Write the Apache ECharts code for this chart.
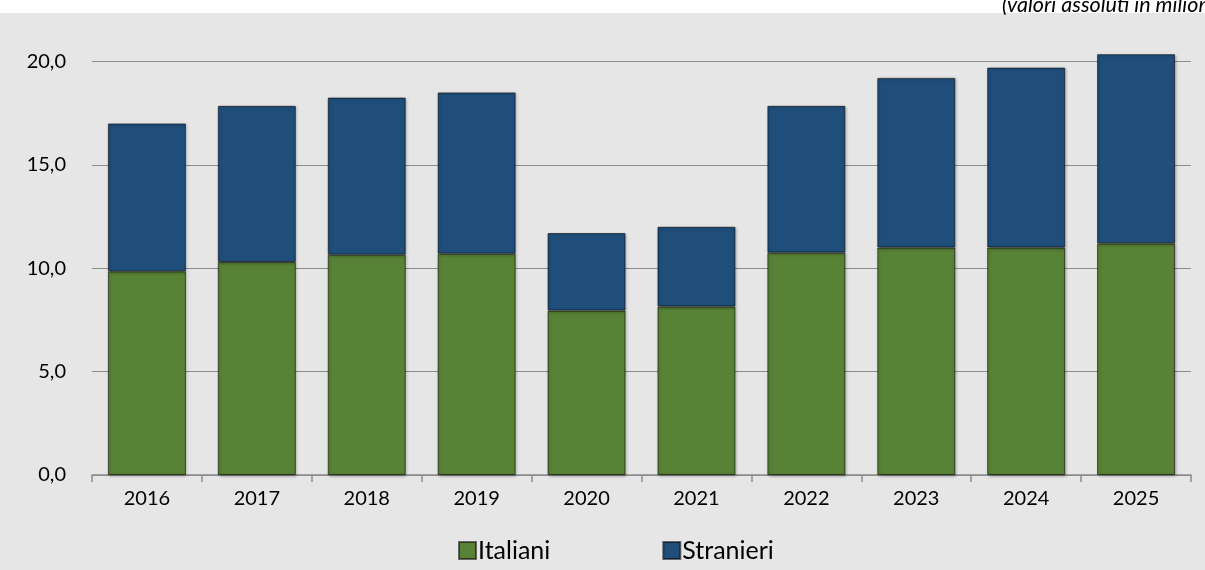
<!DOCTYPE html>
<html>
<head>
<meta charset="utf-8">
<script src="https://cdn.jsdelivr.net/npm/echarts@6/dist/echarts.min.js"></script>
<style>
html,body{margin:0;padding:0;background:#fff;}
#chart{width:1205px;height:570px;}
</style>
</head>
<body>
<div id="chart"></div>
<script>
const categories = ['2016','2017','2018','2019','2020','2021','2022','2023','2024','2025'];
const italiani  = [9.85, 10.3, 10.65, 10.7, 7.95, 8.15, 10.75, 11.0, 11.0, 11.2];
const stranieri = [7.15, 7.55, 7.6, 7.8, 3.75, 3.85, 7.1, 8.2, 8.7, 9.15];
const seriesNames = ['Italiani', 'Stranieri'];
const noteText = '(valori assoluti in milioni)';

const FONT = 'Lato, "Open Sans", sans-serif';
const chart = echarts.init(document.getElementById('chart'), null, {renderer: 'canvas'});

function barStyle(color) {
  return {
    color: color,
    borderColor: 'rgba(0,0,0,0.55)',
    borderWidth: 1,
    shadowColor: 'rgba(0,0,0,0.35)',
    shadowBlur: 3,
    shadowOffsetX: 1,
    shadowOffsetY: 1
  };
}

chart.setOption({
  animation: false,
  graphic: [
    { type: 'rect', z: -10, silent: true,
      shape: { x: 0, y: 13, width: 1205, height: 557 },
      style: { fill: '#e6e6e6' } },
    { type: 'text', z: -5, silent: true, left: 1002, top: -6,
      style: { text: noteText, font: 'italic 21.5px ' + FONT, fill: '#000' } }
  ],
  grid: { left: 92, right: 14, top: 20, bottom: 95, containLabel: false },
  legend: {
    data: seriesNames,
    left: 458, top: 538, padding: 0,
    itemWidth: 17, itemHeight: 17, itemGap: 112,
    textStyle: { fontFamily: FONT, fontSize: 25, color: '#000', padding: [0,0,0,-3] },
    icon: 'rect'
  },
  xAxis: {
    type: 'category',
    data: categories,
    axisLine: { show: true, lineStyle: { color: '#8c8c8c', width: 1.5 } },
    axisTick: { show: true, alignWithLabel: false, length: 7, lineStyle: { color: '#8c8c8c', width: 1.5 } },
    axisLabel: { fontFamily: FONT, fontSize: 20, color: '#000', margin: 14 }
  },
  yAxis: {
    type: 'value',
    min: 0, max: 22, interval: 5,
    axisLine: { show: false },
    axisTick: { show: false },
    axisLabel: {
      fontFamily: FONT, fontSize: 20, color: '#000', margin: 26,
      formatter: v => (v % 5 === 0 ? v.toFixed(1).replace('.', ',') : '')
    },
    splitLine: { show: true, lineStyle: { color: ['#8c8c8c','#8c8c8c','#8c8c8c','#8c8c8c','#8c8c8c','rgba(0,0,0,0)'], width: 1.2 } }
  },
  series: [
    { name: seriesNames[0], type: 'bar', stack: 'tot', data: italiani, barWidth: 78, itemStyle: barStyle('#588235') },
    { name: seriesNames[1], type: 'bar', stack: 'tot', data: stranieri, barWidth: 78, itemStyle: barStyle('#1f4e7a') }
  ]
});
</script>
</body>
</html>
